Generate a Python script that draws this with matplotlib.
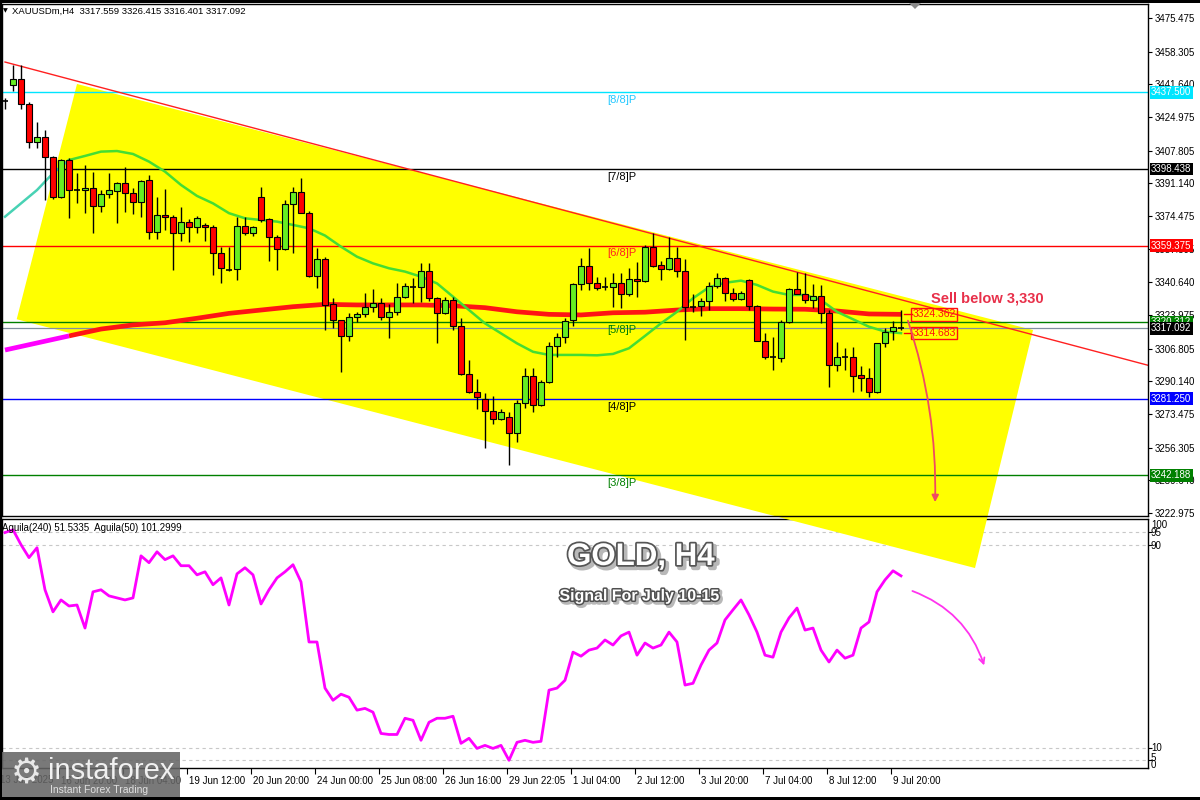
import matplotlib
matplotlib.use("Agg")
import matplotlib.pyplot as plt
from matplotlib.patches import Polygon, Rectangle, FancyArrowPatch
import matplotlib.patheffects as pe
import matplotlib.transforms as mtransforms

plt.rcParams['font.family'] = ['Liberation Sans', 'DejaVu Sans']

# ---------------- data ----------------
opens = [3433.0, 3441.1, 3444.2, 3431.5, 3412.4, 3414.9, 3404.4, 3384.0, 3403.0, 3387.7,
         3387.7, 3388.6, 3379.6, 3385.7, 3387.4, 3391.2, 3386.0, 3381.8, 3392.8, 3366.5,
         3375.0, 3373.8, 3366.0, 3371.6, 3369.0, 3369.9, 3368.7, 3355.4, 3347.2, 3347.3,
         3369.5, 3365.6, 3384.3, 3372.8, 3363.6, 3357.5, 3380.6, 3386.9, 3376.2, 3343.9,
         3352.4, 3329.4, 3321.4, 3313.3, 3323.1, 3324.3, 3328.2, 3330.3, 3322.8, 3325.6,
         3333.3, 3338.8, 3338.1, 3346.4, 3332.8, 3324.8, 3331.6, 3318.5, 3293.9, 3284.6,
         3281.1, 3275.2, 3271.0, 3272.1, 3263.6, 3278.9, 3292.9, 3278.1, 3289.6, 3308.3,
         3312.9, 3321.4, 3339.6, 3349.0, 3340.1, 3337.9, 3338.1, 3340.1, 3334.5, 3342.2,
         3341.3, 3358.5, 3349.3, 3347.3, 3352.9, 3346.4, 3327.9, 3328.7, 3330.9, 3338.6,
         3343.0, 3335.0, 3332.3, 3341.8, 3328.6, 3310.9, 3302.4, 3302.0, 3320.6, 3337.1,
         3334.7, 3331.6, 3333.8, 3324.8, 3298.5, 3302.9, 3302.4, 3293.4, 3291.7, 3284.9,
         3309.5, 3315.8, 3317.559]
highs = [3434.7, 3451.5, 3451.5, 3432.8, 3422.6, 3418.3, 3405.1, 3403.5, 3403.9, 3396.3,
         3400.5, 3397.1, 3387.7, 3396.3, 3392.0, 3399.6, 3388.6, 3392.8, 3395.4, 3384.3,
         3388.1, 3375.0, 3378.9, 3372.9, 3374.5, 3370.9, 3369.9, 3358.8, 3358.8, 3374.1,
         3373.8, 3369.5, 3389.3, 3373.5, 3364.8, 3382.6, 3389.4, 3393.7, 3377.2, 3358.0,
         3353.6, 3332.5, 3321.6, 3324.8, 3325.5, 3335.0, 3337.2, 3332.5, 3329.6, 3340.1,
         3340.1, 3342.7, 3350.4, 3350.5, 3333.3, 3333.3, 3333.3, 3322.3, 3301.0, 3291.2,
         3284.0, 3282.8, 3276.0, 3274.5, 3280.6, 3296.8, 3296.8, 3290.8, 3310.4, 3314.6,
         3322.3, 3340.3, 3352.9, 3358.0, 3343.5, 3343.5, 3345.4, 3345.4, 3347.8, 3351.2,
         3359.7, 3365.6, 3351.4, 3363.6, 3358.5, 3352.4, 3334.5, 3332.6, 3340.8, 3345.4,
         3343.5, 3337.6, 3336.2, 3342.3, 3329.2, 3315.0, 3312.6, 3321.4, 3337.6, 3345.8,
         3345.4, 3339.8, 3339.3, 3326.5, 3310.4, 3307.0, 3307.8, 3298.1, 3296.8, 3309.7,
         3317.2, 3321.0, 3326.415]
lows = [3429.1, 3438.4, 3428.9, 3409.3, 3409.3, 3382.6, 3383.0, 3383.5, 3373.3, 3381.0,
        3375.9, 3366.0, 3376.7, 3383.5, 3370.8, 3376.7, 3375.5, 3373.8, 3362.6, 3362.6,
        3367.3, 3346.9, 3361.9, 3361.4, 3366.0, 3361.7, 3344.4, 3340.1, 3346.4, 3341.8,
        3364.8, 3364.4, 3371.6, 3351.7, 3346.9, 3357.0, 3355.8, 3376.0, 3343.5, 3337.6,
        3316.3, 3317.3, 3295.0, 3310.9, 3320.4, 3322.8, 3325.6, 3321.4, 3312.1, 3323.9,
        3332.5, 3330.0, 3330.6, 3331.1, 3309.9, 3324.3, 3316.3, 3293.4, 3284.0, 3276.0,
        3256.0, 3268.2, 3270.4, 3247.6, 3259.3, 3276.4, 3274.3, 3277.6, 3289.1, 3302.6,
        3309.7, 3318.5, 3336.7, 3336.7, 3336.7, 3336.7, 3328.2, 3327.4, 3333.7, 3333.3,
        3340.8, 3348.4, 3341.8, 3346.9, 3343.4, 3311.2, 3325.6, 3323.6, 3326.5, 3337.6,
        3330.9, 3330.9, 3331.6, 3326.5, 3310.7, 3301.4, 3295.9, 3300.2, 3319.9, 3334.7,
        3329.9, 3327.4, 3319.7, 3287.4, 3295.6, 3295.9, 3284.9, 3285.3, 3282.3, 3284.4,
        3307.8, 3311.2, 3316.401]
closes = [3433.6, 3444.2, 3431.5, 3412.4, 3414.9, 3404.4, 3384.0, 3403.0, 3387.7, 3387.4,
          3388.6, 3379.6, 3385.7, 3387.7, 3391.2, 3386.0, 3381.8, 3392.5, 3366.5, 3375.0,
          3373.8, 3366.0, 3371.6, 3369.0, 3373.3, 3368.7, 3355.4, 3347.8, 3347.0, 3369.5,
          3365.6, 3368.7, 3372.4, 3363.6, 3357.5, 3380.6, 3386.9, 3376.2, 3343.9, 3352.4,
          3329.1, 3321.4, 3313.3, 3323.1, 3324.3, 3328.2, 3330.3, 3322.8, 3325.6, 3333.3,
          3338.8, 3338.1, 3346.4, 3332.8, 3324.8, 3331.6, 3318.5, 3293.9, 3284.6, 3282.0,
          3275.2, 3271.0, 3274.3, 3263.6, 3278.9, 3292.9, 3278.1, 3289.6, 3308.3, 3312.9,
          3321.1, 3339.6, 3349.0, 3340.1, 3337.9, 3338.1, 3340.1, 3334.5, 3342.2, 3341.3,
          3358.5, 3349.1, 3347.3, 3352.9, 3346.4, 3327.9, 3328.7, 3330.9, 3338.8, 3343.0,
          3335.0, 3332.3, 3335.0, 3328.6, 3310.9, 3302.4, 3302.2, 3320.6, 3337.1, 3334.7,
          3331.6, 3333.8, 3324.8, 3298.5, 3302.7, 3302.5, 3293.0, 3291.7, 3284.9, 3309.5,
          3315.5, 3317.6, 3317.092]

# fast moving average, read every 2 bars
ma_fast_bars = list(range(0, 113, 2))
ma_fast = [3374.1, 3380.9, 3387.7, 3396.3, 3403.0, 3405.1, 3407.3, 3407.6, 3406.1, 3402.2,
           3397.1, 3390.3, 3384.7, 3380.9, 3375.9, 3373.3, 3372.4, 3371.6, 3369.9, 3368.2,
           3364.5, 3358.8, 3353.7, 3350.3, 3347.8, 3346.1, 3343.5, 3340.1, 3333.3, 3326.5,
           3319.7, 3314.6, 3309.5, 3305.2, 3303.6, 3303.6, 3303.6, 3303.4, 3304.1, 3307.0,
           3313.3, 3319.7, 3325.6, 3332.5, 3338.1, 3340.4, 3341.5, 3339.3, 3335.9, 3334.2,
           3334.2, 3331.6, 3325.6, 3321.8, 3318.0, 3315.5, 3314.7]
# slow moving average, read every 4 bars
ma_slow_bars = list(range(0, 113, 4))
ma_slow = [3306.1, 3309.7, 3313.3, 3316.8, 3318.9, 3320.0, 3322.3, 3324.8, 3326.5, 3328.2,
           3329.4, 3329.1, 3329.1, 3329.1, 3328.7, 3327.7, 3325.6, 3324.3, 3324.0, 3325.1,
           3325.4, 3326.5, 3327.2, 3327.2, 3327.0, 3326.9, 3326.0, 3324.5, 3324.3]
ma_labels = ['3324.362', '3314.683']

# oscillator in the lower panel
aguila = [94.9, 96.0, 90.1, 85.0, 88.9, 72.3, 63.6, 68.3, 65.9, 66.3,
          57.2, 71.5, 72.3, 69.9, 69.1, 68.3, 69.1, 85.7, 83.0, 87.3,
          84.2, 85.7, 81.8, 81.8, 78.2, 79.4, 74.3, 77.0, 66.3, 78.6,
          81.0, 78.2, 66.7, 72.3, 77.0, 79.4, 82.2, 75.4, 51.7, 51.7,
          33.5, 28.7, 31.1, 29.9, 24.8, 25.5, 24.0, 15.6, 15.2, 15.2,
          21.6, 20.8, 12.9, 20.0, 21.6, 21.6, 22.4, 11.7, 13.7, 9.7,
          10.9, 9.7, 10.9, 5.0, 12.1, 12.9, 12.1, 12.5, 32.7, 33.5,
          36.6, 47.7, 46.1, 48.5, 49.3, 52.5, 50.5, 54.1, 55.6, 46.5,
          51.3, 49.3, 50.5, 55.6, 51.7, 34.7, 35.4, 42.6, 48.5, 51.3,
          60.4, 64.4, 68.3, 62.4, 55.6, 46.5, 45.7, 55.6, 61.2, 65.1,
          56.4, 57.2, 48.5, 43.8, 48.5, 45.3, 46.5, 57.2, 59.6, 71.5,
          76.2, 79.8, 77.8]

# horizontal Murrey levels
level_prices = [3437.500, 3398.438, 3359.375, 3320.312, 3281.250, 3242.188]
level_names = ['[8/8]P', '[7/8]P', '[6/8]P', '[5/8]P', '[4/8]P', '[3/8]P']
level_colors = ['#00e5ff', '#000000', '#ff0000', '#008000', '#0000ff', '#008000']
level_text_colors = ['#22c8ff', '#000000', '#ff2020', '#008000', '#000000', '#008000']
current_price = 3317.092

# trend line and channel
trend_bars = [0, 142.9]
trend_prices = [3453.0, 3298.3]
channel_bars = [9.0, 128.5, 121.25, 1.46]
channel_prices = [3441.8, 3316.3, 3194.9, 3321.8]

price_ticks = [3475.475, 3458.305, 3441.640, 3424.975, 3407.805, 3391.140, 3374.475,
               3357.805, 3340.640, 3323.975, 3306.805, 3290.140, 3273.475, 3256.305,
               3239.640, 3222.975]
time_tick_bars = [7, 15, 23, 31, 39, 47, 55, 63, 71, 79, 87, 95, 103, 111]
time_tick_labels = ['16 Jun 20:00', '18 Jun 04:00', '19 Jun 12:00', '20 Jun 20:00',
                    '24 Jun 00:00', '25 Jun 08:00', '26 Jun 16:00', '29 Jun 22:05',
                    '1 Jul 04:00', '2 Jul 12:00', '3 Jul 20:00', '7 Jul 04:00',
                    '8 Jul 12:00', '9 Jul 20:00']

# ---------------- figure ----------------
W, H = 1200, 800
fig = plt.figure(figsize=(12, 8), dpi=100)
fig.patch.set_facecolor('white')


def px_box(l, t, r, b):
    return [l / W, 1 - b / H, (r - l) / W, (b - t) / H]


ax_ind = fig.add_axes(px_box(2, 519, 1148, 768), zorder=0)
ax = fig.add_axes(px_box(2, 4, 1148, 516), zorder=1)
ax.patch.set_alpha(0)

XMIN, XMAX = -0.375, 142.875
ax.set_xlim(XMIN, XMAX)
ax.set_ylim(3221.44, 3482.6)
ax_ind.set_xlim(XMIN, XMAX)
ax_ind.set_ylim(1.97, 100.24)

# channel (yellow)
ax.add_patch(Polygon(list(zip(channel_bars, channel_prices)), closed=True,
                     fc='#ffff00', ec='none', zorder=0.5, clip_on=False))

# level lines
for p, c in zip(level_prices, level_colors):
    ax.axhline(p, color=c, lw=1.0, zorder=2)
ax.axhline(current_price, color='#8090a0', lw=0.9, zorder=2)
for p, name, c in zip(level_prices, level_names, level_text_colors):
    ax.annotate(name, xy=(75.25, p), xytext=(0, -2), textcoords='offset points',
                ha='left', va='top', fontsize=8, color=c, zorder=2)

# trend line
ax.plot(trend_bars, trend_prices, color='#ff2020', lw=1.0, zorder=2.2)

# moving averages
ax.plot(ma_slow_bars[:3], ma_slow[:3], color='#ff00ff', lw=3.4, zorder=2.6,
        solid_capstyle='butt')
ax.plot(ma_slow_bars[2:], ma_slow[2:], color='#ff1414', lw=3.4, zorder=2.6,
        solid_capstyle='butt')
ax.plot(ma_fast_bars[:5], ma_fast[:5], color='#48d2b4', lw=1.8, zorder=2.7)
ax.plot(ma_fast_bars[4:], ma_fast[4:], color='#44dd33', lw=1.8, zorder=2.7)

# candles
bull, bear = '#66ee22', '#ff0000'
n = len(opens)
for i in range(n):
    o, h, l, c = opens[i], highs[i], lows[i], closes[i]
    ax.vlines(i, l, h, color='black', lw=1.0, zorder=3)
    lo, hi = min(o, c), max(o, c)
    if hi - lo < 0.8:
        ax.hlines((o + c) / 2, i - 0.33, i + 0.33, color='black', lw=1.2, zorder=4)
    else:
        ax.add_patch(Rectangle((i - 0.33, lo), 0.66, hi - lo,
                               fc=bull if c >= o else bear, ec='black', lw=0.8, zorder=4))

# ma end labels
for val, lab in zip([ma_slow[-1], ma_fast[-1]], ma_labels):
    ax.plot([112.4, 113.4], [val, val], color='red', lw=1, zorder=5)
    ax.text(113.45, val, lab, fontsize=7.5, color='#ff1010', va='center', ha='left', zorder=6,
            bbox=dict(boxstyle='square,pad=0.12', fc='none', ec='#ff1010', lw=1))

ax.text(122.75, 3332.6, 'Sell below 3,330', color='#e8304a', fontsize=10.5,
        fontweight='bold', ha='center', va='center', zorder=6)

ax.add_patch(FancyArrowPatch((112.75, 3322.4), (116.25, 3227.1),
                             connectionstyle='arc3,rad=-0.09', arrowstyle='-|>',
                             mutation_scale=10, color='#f04a62', lw=1.3, zorder=6,
                             clip_on=False))

# axes styling main
for s in ax.spines.values():
    s.set_color('black')
    s.set_linewidth(1)
ax.set_xticks([])
ax.yaxis.tick_right()
ax.set_yticks(price_ticks)
ax.set_yticklabels([f"{t:.3f}" for t in price_ticks])
ax.tick_params(axis='y', direction='out', length=3, pad=2, labelsize=7, colors='black')

# right colored price labels
trans = mtransforms.blended_transform_factory(ax.transAxes, ax.transData)
tag_vals = level_prices + [current_price]
tag_cols = ['#00e5ff', '#000000', '#ff0000', '#008000', '#0000ff', '#008000', '#000000']
for v, fc in zip(tag_vals, tag_cols):
    ax.text(1.0026, v, f"{v:.3f}", transform=trans, fontsize=7, color='white',
            va='center', ha='left', zorder=10, clip_on=False,
            bbox=dict(boxstyle='square,pad=0.15', fc=fc, ec='none'))

# ---------------- indicator panel ----------------
for lvl in [95, 90, 10, 5]:
    ax_ind.axhline(lvl, color='#c8c8c8', lw=0.8, ls=(0, (3, 3)), zorder=1)
ax_ind.plot(range(n), aguila, color='#ff00ff', lw=2.0, zorder=3)
for s in ax_ind.spines.values():
    s.set_color('black')
    s.set_linewidth(1)
ax_ind.yaxis.tick_right()
ax_ind.set_yticks([95, 90, 10, 5])
ax_ind.set_yticklabels([])
ax_ind.tick_params(axis='y', direction='out', length=3, colors='black')
ind_trans = mtransforms.blended_transform_factory(ax_ind.transAxes, ax_ind.transData)
for txt, v in [('100', 97.9), ('95', 94.7), ('90', 89.6), ('10', 10.0), ('5', 5.9), ('0', 3.1)]:
    ax_ind.text(1.0026, v, txt, transform=ind_trans, fontsize=7, va='center', ha='left',
                clip_on=False)

ax_ind.set_xticks([b - 0.25 for b in time_tick_bars])
ax_ind.set_xticklabels(time_tick_labels)
ax_ind.tick_params(axis='x', direction='out', length=4, pad=2, labelsize=7, colors='black')
offset = mtransforms.ScaledTranslation(2 / 100, 0, fig.dpi_scale_trans)
for lab in ax_ind.get_xticklabels():
    lab.set_ha('left')
    lab.set_transform(lab.get_transform() + offset)

ax_ind.text(0.0, 0.965, 'Aguila(240) 51.5335  Aguila(50) 101.2999', transform=ax_ind.transAxes,
            fontsize=7, va='center', ha='left')

ax_ind.add_patch(FancyArrowPatch((113.1, 72.2), (122.5, 41.4),
                                 connectionstyle='arc3,rad=-0.25', arrowstyle='->',
                                 mutation_scale=10, color='#ff33ee', lw=1.3, zorder=4))

# headline texts
shadow = [pe.Stroke(linewidth=3.5, foreground='#9a9a9a', offset=(2, -2), alpha=0.7),
          pe.Stroke(linewidth=2.5, foreground='#555555'), pe.Normal()]
fig.text(641 / W, 1 - 557 / H, 'GOLD, H4', fontsize=22.5, fontweight='bold', color='white',
         ha='center', va='center', path_effects=shadow, zorder=8)
fig.text(640 / W, 1 - 596 / H, 'Signal For July 10-15', fontsize=11.5, fontweight='bold',
         color='white', ha='center', va='center',
         path_effects=[pe.Stroke(linewidth=3, foreground='#9a9a9a', offset=(1.5, -1.5), alpha=0.7),
                       pe.Stroke(linewidth=2.2, foreground='#505050'), pe.Normal()], zorder=8)

# title
fig.text(3 / W, 1 - 11 / H, '\u25bc', fontsize=4.5, family='DejaVu Sans', va='center', ha='left')
fig.text(12 / W, 1 - 11 / H, 'XAUUSDm,H4  3317.559 3326.415 3316.401 3317.092',
         fontsize=6.8, va='center', ha='left')
fig.text(0 / W, 1 - 780 / H, '13 Jun 2025', fontsize=7, va='center', ha='left')

# frame bands
for (l, t, r, b) in [(0, 0, 1200, 3), (0, 0, 2, 800), (0, 797, 1200, 800)]:
    fig.patches.append(Rectangle((l / W, 1 - b / H), (r - l) / W, (b - t) / H,
                                 transform=fig.transFigure, fc='black', ec='none', zorder=9))
fig.patches.append(Polygon([(909 / W, 1 - 3 / H), (921 / W, 1 - 3 / H), (915 / W, 1 - 9 / H)],
                           closed=True, transform=fig.transFigure, fc='#8a8a8a', ec='none', zorder=9))

# logo
fig.patches.append(Rectangle((0, 1 - 797 / H), 180 / W, 45 / H, transform=fig.transFigure,
                             fc='#666666', ec='none', alpha=0.88, zorder=7))
fig.text(26 / W, 1 - 774 / H, '\u2699', fontsize=25, family='DejaVu Sans', color='#e8e8e8',
         ha='center', va='center', zorder=8)
fig.text(48 / W, 1 - 771 / H, 'instaforex', fontsize=21, color='#f0f0f0',
         ha='left', va='center', zorder=8)
fig.text(50 / W, 1 - 790 / H, 'Instant Forex Trading', fontsize=7.5, color='#e0e0e0',
         ha='left', va='center', zorder=8)

fig.savefig('out.png', dpi=100)
